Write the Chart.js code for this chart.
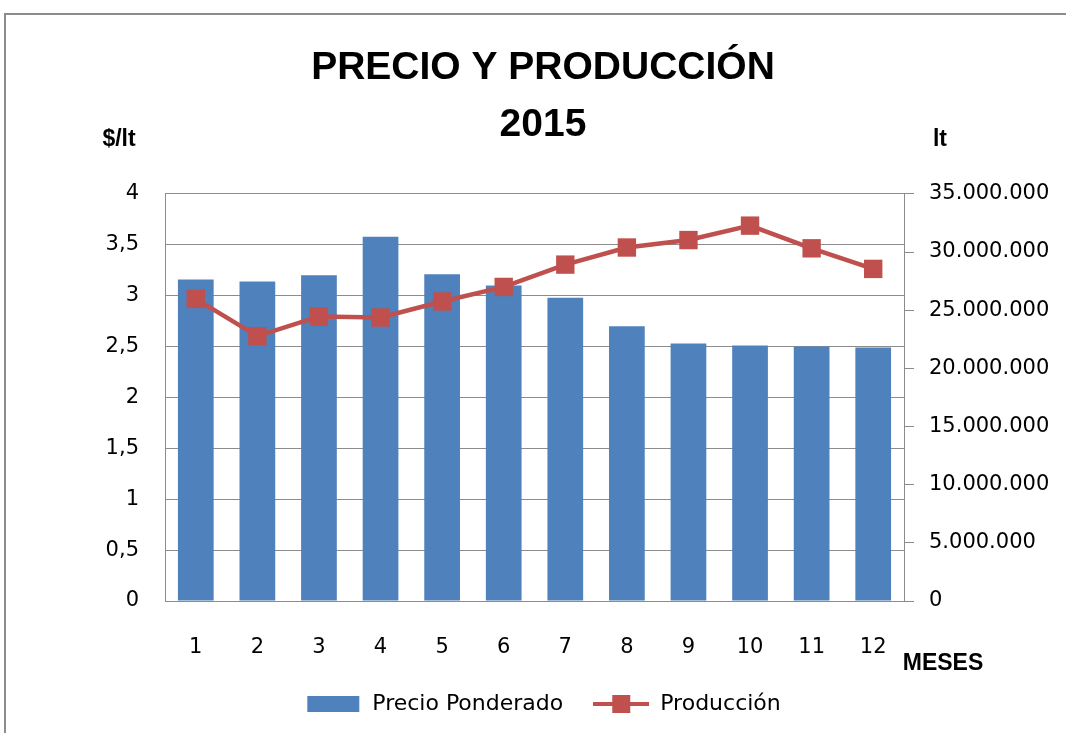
<!DOCTYPE html>
<html>
<head>
<meta charset="utf-8">
<script src="https://cdn.jsdelivr.net/npm/chart.js@4"></script>
<style>
  body { margin: 0; background: #fff; overflow: hidden; }
  #frame { position: absolute; left: 4px; top: 13px; width: 1200px; height: 900px; border-left: 2px solid #8c8c8c; border-top: 2px solid #8c8c8c; }
  #chart { position: absolute; left: 0; top: 0; }
</style>
</head>
<body>
<div id="frame"></div>
<canvas id="chart" width="1066" height="733"></canvas>
<script>
// datos
const meses = ['1', '2', '3', '4', '5', '6', '7', '8', '9', '10', '11', '12']
const precioPonderado = [3.16, 3.14, 3.20, 3.58, 3.21, 3.10, 2.98, 2.70, 2.53, 2.51, 2.50, 2.49]
const produccion = [25970000, 22770000, 24460000, 24370000, 25750000, 27000000, 28920000, 30390000, 31030000, 32270000, 30320000, 28550000]
const tituloLineas = ['PRECIO Y PRODUCCIÓN', '2015']

const azul = '#4F81BD'
const rojo = '#C0504D'
const gris = '#8c8c8c'
const fuente = "'DejaVu Sans', sans-serif"

function formatMiles(v) {
  return String(v).replace(/\B(?=(\d{3})+(?!\d))/g, '.')
}

// iconos de la leyenda
function iconoBarra() {
  const c = document.createElement('canvas')
  c.width = 56; c.height = 16
  const ctx = c.getContext('2d')
  ctx.fillStyle = azul
  ctx.fillRect(2, 0, 52, 16)
  return c
}
function iconoLinea() {
  const c = document.createElement('canvas')
  c.width = 56; c.height = 18
  const ctx = c.getContext('2d')
  ctx.fillStyle = rojo
  ctx.fillRect(0, 7, 56, 4)
  ctx.fillRect(19, 0, 18, 18)
  return c
}

const etiquetasExtra = {
  id: 'etiquetasExtra',
  afterDraw(chart) {
    const ctx = chart.ctx
    const a = chart.chartArea
    ctx.save()
    ctx.fillStyle = '#000'
    ctx.font = "bold 23px 'Liberation Sans', sans-serif"
    ctx.textAlign = 'center'
    ctx.textBaseline = 'middle'
    ctx.fillText('$/lt', a.left - 46, a.top - 54)
    ctx.fillText('lt', a.right + 36, a.top - 54)
    ctx.fillText('MESES', a.right + 39, a.bottom + 63)
    ctx.restore()
  }
}

let myChart = new Chart('chart', {
  type: 'bar',
  data: {
    labels: meses,
    datasets: [{
      type: 'line',
      label: 'Producción',
      data: produccion,
      yAxisID: 'y1',
      borderColor: rojo,
      backgroundColor: rojo,
      borderWidth: 4.5,
      pointStyle: 'rect',
      pointRadius: 13,
      pointBorderWidth: 0,
      pointBackgroundColor: rojo,
      tension: 0,
      order: 1
    }, {
      label: 'Precio Ponderado',
      data: precioPonderado,
      yAxisID: 'y',
      backgroundColor: azul,
      barPercentage: 0.58,
      categoryPercentage: 1,
      order: 2
    }]
  },
  options: {
    responsive: false,
    animation: false,
    layout: { padding: { left: 20, right: 0, top: 0, bottom: 8 } },
    plugins: {
      title: {
        display: true,
        text: tituloLineas,
        color: '#000',
        font: { family: "'Liberation Sans', sans-serif", size: 39, weight: 'bold', lineHeight: 1.46 },
        padding: { top: 40, bottom: 40 }
      },
      legend: {
        position: 'bottom',
        labels: {
          usePointStyle: true,
          pointStyleWidth: 56,
          boxHeight: 18,
          padding: 30,
          color: '#000',
          font: { family: fuente, size: 22 },
          generateLabels(chart) {
            return [
              { text: 'Precio Ponderado', pointStyle: iconoBarra(), datasetIndex: 1, fontColor: '#000', lineWidth: 0, hidden: false },
              { text: 'Producción', pointStyle: iconoLinea(), datasetIndex: 0, fontColor: '#000', lineWidth: 0, hidden: false }
            ]
          }
        }
      },
      tooltip: { enabled: false }
    },
    scales: {
      x: {
        grid: { display: false },
        border: { color: gris, width: 1 },
        ticks: { color: '#000', padding: 26, font: { family: fuente, size: 21 } },
        afterFit(scale) { scale.height = 62 }
      },
      y: {
        position: 'left',
        min: 0,
        max: 4,
        ticks: {
          stepSize: 0.5,
          color: '#000',
          padding: 26,
          font: { family: fuente, size: 21 },
          callback: (v) => String(v).replace('.', ',')
        },
        grid: { color: gris, lineWidth: 1, drawTicks: false },
        border: { color: gris, width: 1 },
        afterFit(scale) { scale.width = 145 }
      },
      y1: {
        position: 'right',
        min: 0,
        max: 35000000,
        ticks: {
          stepSize: 5000000,
          color: '#000',
          padding: 15,
          font: { family: fuente, size: 21 },
          callback: (v) => formatMiles(v)
        },
        grid: { drawOnChartArea: false, color: gris, tickLength: 10 },
        border: { color: gris, width: 1 },
        afterFit(scale) { scale.width = 162 }
      }
    }
  },
  plugins: [etiquetasExtra]
})
</script>
</body>
</html>
